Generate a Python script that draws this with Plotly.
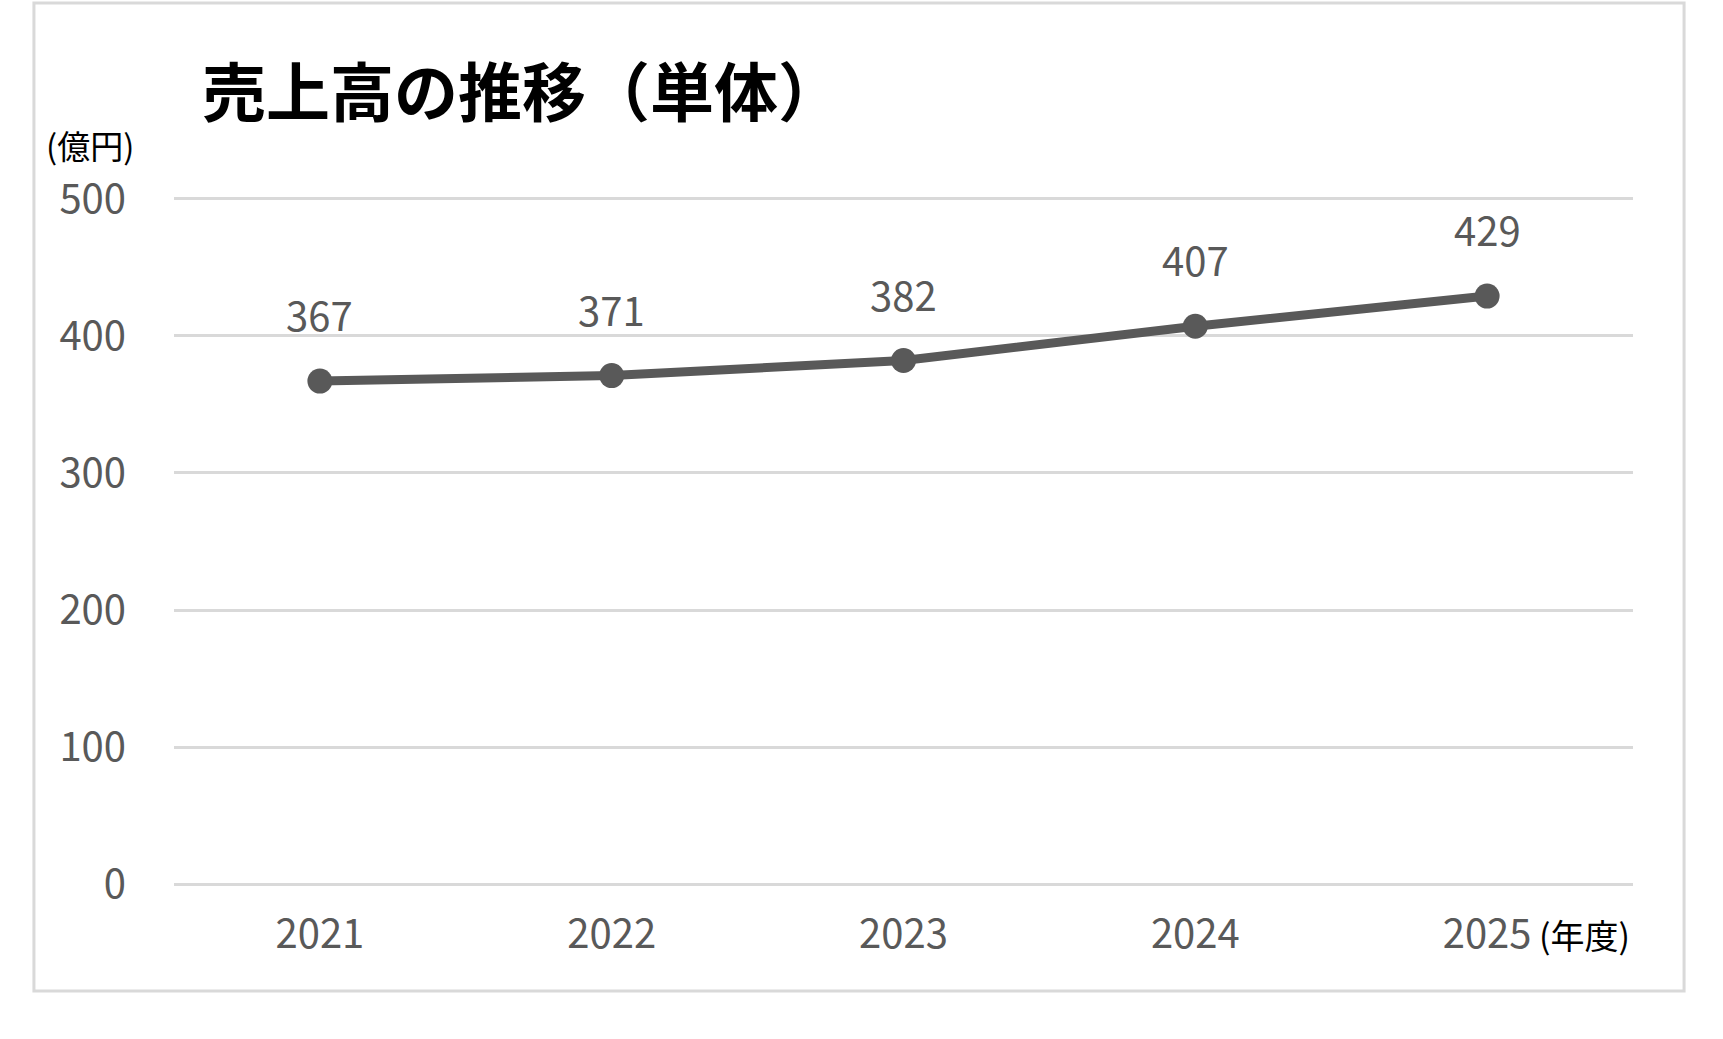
import plotly.graph_objs as go

# 売上高（単体）
years = ['2021', '2022', '2023', '2024', '2025']
sales = [367, 371, 382, 407, 429]
y_ticks = [0, 100, 200, 300, 400, 500]

GRAY = '#595959'
GRID = '#d9d9d9'
FONT = 'Noto Sans CJK JP'

fig = go.Figure()
fig.add_trace(go.Scatter(
    x=years,
    y=sales,
    mode='lines+markers',
    line=dict(color=GRAY, width=9),
    marker=dict(color=GRAY, size=25),
    showlegend=False,
    hoverinfo='skip'
))

# データラベル（点の上）
for i, v in enumerate(sales):
    fig.add_annotation(x=i, y=v, text=str(v), showarrow=False,
                       yshift=67, font=dict(family=FONT, size=40, color=GRAY))

# 単位
fig.add_annotation(xref='paper', yref='paper', x=-0.0891, y=1.0738,
                   xanchor='left', yanchor='middle', text='(億円)',
                   showarrow=False, font=dict(family=FONT, size=33, color='#000000'))
fig.add_annotation(xref='paper', yref='paper', x=0.9993, y=-0.069,
                   xanchor='right', yanchor='middle', text='(年度)',
                   showarrow=False, font=dict(family=FONT, size=34, color='#000000'))

# 外枠
fig.add_shape(type='rect', xref='paper', yref='paper',
              x0=-0.0960, x1=1.0350, y0=-0.1505, y1=1.2793,
              line=dict(color=GRID, width=3), layer='below')

fig.update_layout(
    width=1723,
    height=1039,
    margin=dict(l=174, r=90, t=196, b=152),
    paper_bgcolor='white',
    plot_bgcolor='white',
    title=dict(text='<b>売上高の推移（単体）</b>', xref='container', yref='container',
               x=202 / 1723, xanchor='left', y=1 - 94 / 1039, yanchor='middle',
               font=dict(family=FONT, size=64, color='#000000')),
    font=dict(family=FONT, color=GRAY),
    xaxis=dict(type='category', range=[-0.5, 4.5], showgrid=False, showline=False,
               zeroline=False, ticks='', ticklabelstandoff=20,
               tickfont=dict(family=FONT, size=40, color=GRAY)),
    yaxis=dict(range=[-2, 502], tickvals=y_ticks, showgrid=True, gridcolor=GRID,
               gridwidth=3, zeroline=False, showline=False, ticks='',
               ticklabelstandoff=47,
               tickfont=dict(family=FONT, size=40, color=GRAY)),
)

fig.write_html("out.html", config={'displayModeBar': False},
               post_script="document.body.style.margin='0';")
